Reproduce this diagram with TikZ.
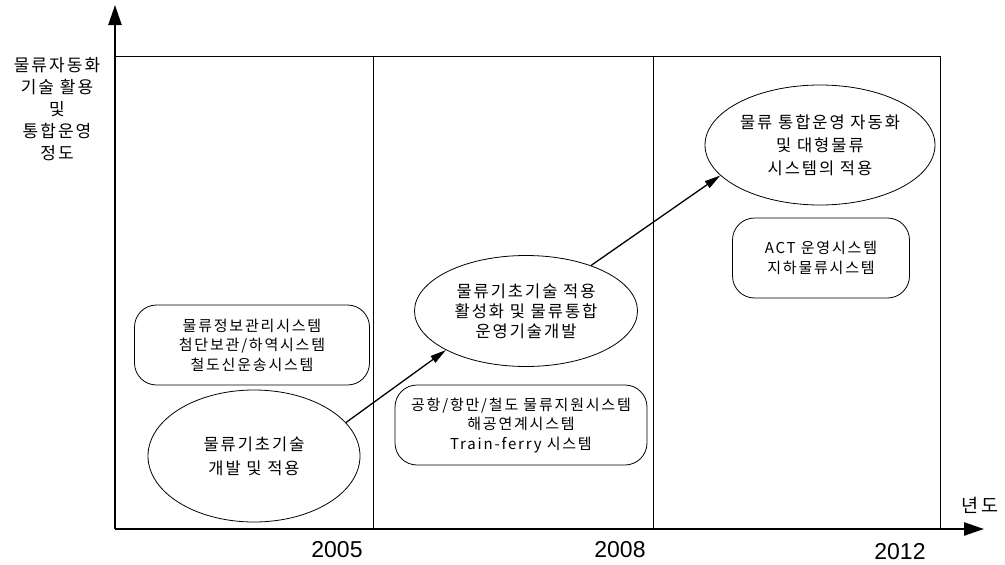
\documentclass[tikz,border=0pt]{standalone}
\usepackage{fontspec}
\newfontfamily\kr[LetterSpace=12]{Noto Sans CJK KR}
\newfontfamily\yr{Liberation Sans}
\usetikzlibrary{shapes.geometric,arrows.meta}
\begin{document}
\begin{tikzpicture}[x=1pt,y=-1pt,
  bubble/.style={ellipse,draw,line width=0.8pt,inner sep=0pt,align=center},
  sysbox/.style={rectangle,rounded corners=22pt,draw,line width=0.8pt,inner sep=0pt,align=center,font=\kr\fontsize{15}{19.5}\selectfont},
  flow/.style={line width=1.3pt,-{Triangle[length=16pt,width=8pt]}},
  axisline/.style={line width=2.4pt,-{Triangle[length=20pt,width=13pt]}},
  gridline/.style={line width=0.7pt},
  yearlabel/.style={font=\yr\fontsize{23}{26}\selectfont,inner sep=0pt}]
\useasboundingbox (0,0) rectangle (1005,565);
% frame
\coordinate (O) at (115,529);
\coordinate (ytop) at (115,5);
\coordinate (xend) at (984,529);
\coordinate (tl) at (115,56);
\coordinate (tr) at (940,56);
\coordinate (br) at (940,529);
\coordinate (a1) at (373,56);
\coordinate (b1) at (373,529);
\coordinate (a2) at (653,56);
\coordinate (b2) at (653,529);
\draw[gridline] (tl) -- (tr) -- (br);
\draw[gridline] (a1) -- (b1);
\draw[gridline] (a2) -- (b2);
\draw[axisline] (O) -- (ytop);
\draw[axisline] (O) -- (xend);
% axis labels
\node[align=center,inner sep=0pt,font=\kr\fontsize{17}{22}\selectfont] (ylab) at (57,109) {물류자동화\\기술 활용\\및\\통합운영\\정도};
\node[inner sep=0pt,font=\kr\fontsize{18.5}{20}\selectfont] (xlab) at (980,505) {년도};
\node[yearlabel] (y2005) at (337,550) {2005};
\node[yearlabel] (y2008) at (620,550) {2008};
\node[yearlabel] (y2012) at (900,552) {2012};
% ellipses
\node[bubble,minimum width=212pt,minimum height=132pt,font=\kr\fontsize{16.5}{24}\selectfont] (e1) at (254,456) {물류기초기술\\개발 및 적용};
\node[bubble,minimum width=223pt,minimum height=111pt,font=\kr\fontsize{16.5}{20}\selectfont] (e2) at (526,311) {물류기초기술 적용\\활성화 및 물류통합\\운영기술개발};
\node[bubble,minimum width=230pt,minimum height=120pt,font=\kr\fontsize{16.5}{23}\selectfont] (e3) at (820,145) {물류 통합운영 자동화\\및 대형물류\\시스템의 적용};
% boxes
\node[sysbox,minimum width=235pt,minimum height=80pt] (s1) at (252,345) {물류정보관리시스템\\첨단보관/하역시스템\\철도신운송시스템};
\node[sysbox,minimum width=252pt,minimum height=80pt] (s2) at (521,425) {공항/항만/철도 물류지원시스템\\해공연계시스템\\Train-ferry 시스템};
\node[sysbox,minimum width=177pt,minimum height=80pt] (s3) at (821,258) {ACT 운영시스템\\지하물류시스템};
% arrows
\draw[flow] (e1.20) -- (e2.206);
\draw[flow] (e2.35) -- (e3.197);
\end{tikzpicture}
\end{document}
